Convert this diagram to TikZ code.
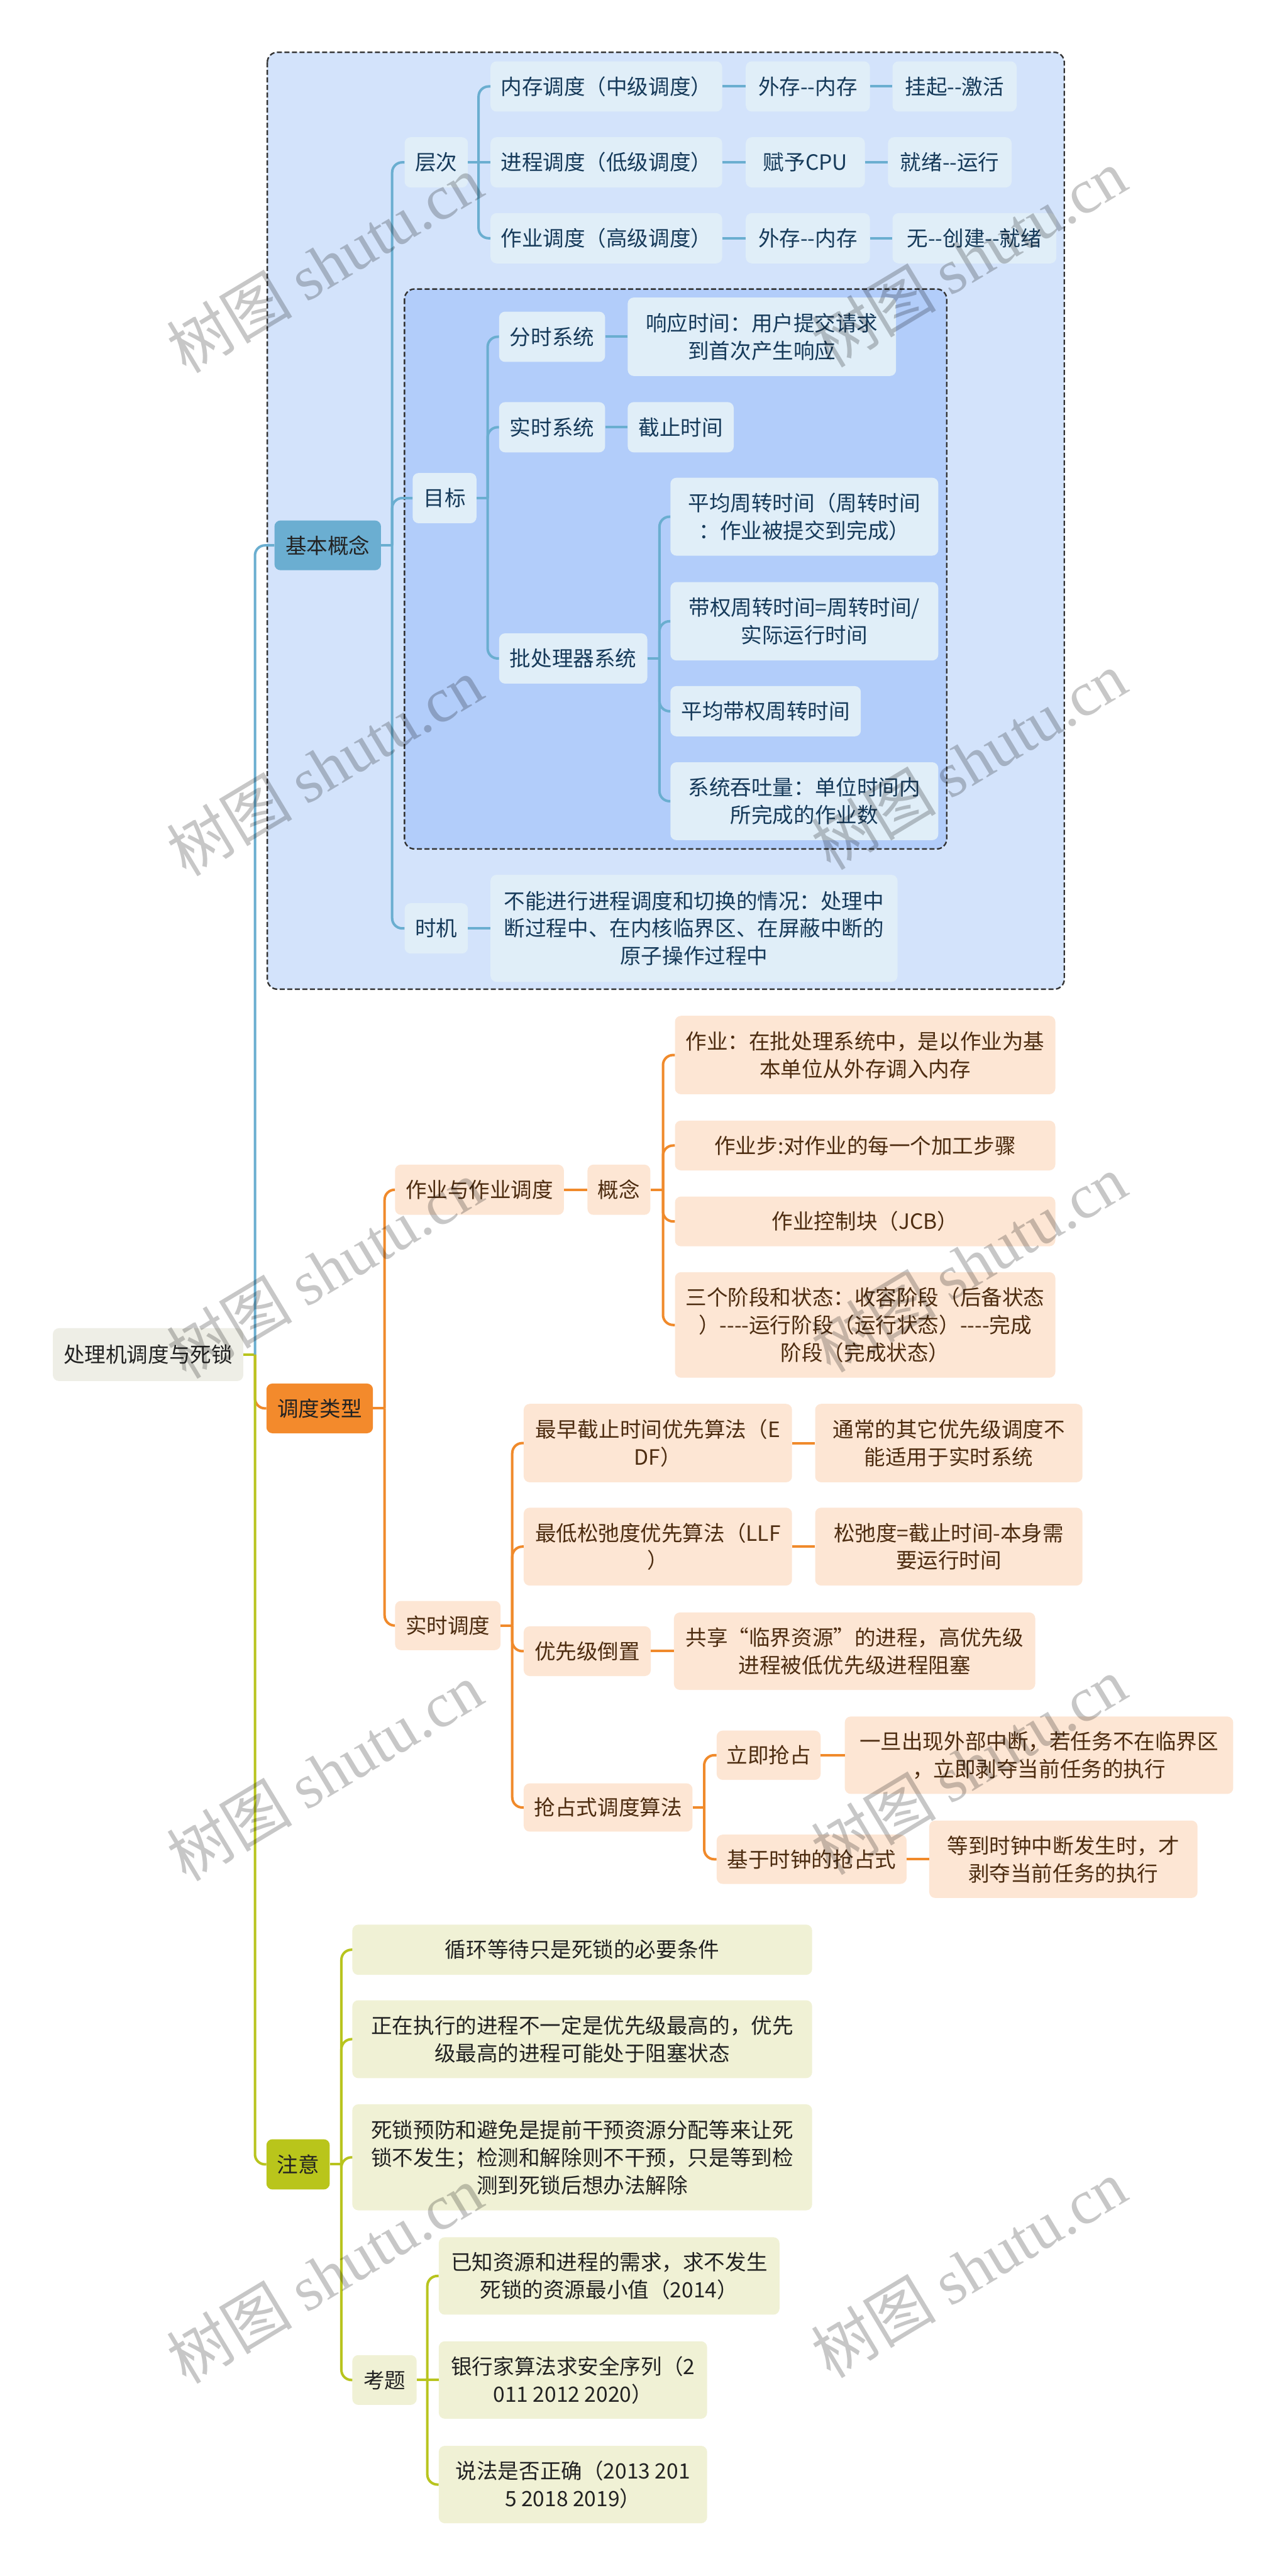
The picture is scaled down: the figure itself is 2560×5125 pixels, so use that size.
\documentclass[tikz,border=0pt]{standalone}
\usepackage{fontspec}
\setmainfont{Noto Sans CJK SC}[Ligatures=TeXOff]
\newfontfamily\wmfont{Liberation Serif}
\usepackage{tikz}

\definecolor{blueline}{HTML}{6AAED0}
\definecolor{bluedark}{HTML}{6BAED1}
\definecolor{blueleaf}{HTML}{E0EEF8}
\definecolor{bluetext}{HTML}{163A5A}
\definecolor{outerbg}{HTML}{D3E3FB}
\definecolor{innerbg}{HTML}{B2CDFA}
\definecolor{orangeline}{HTML}{F08A2B}
\definecolor{orangedark}{HTML}{F38A2C}
\definecolor{orangeleaf}{HTML}{FDE6D4}
\definecolor{browntext}{HTML}{4D2C10}
\definecolor{greenline}{HTML}{B8C41E}
\definecolor{greendark}{HTML}{B9C51B}
\definecolor{greenleaf}{HTML}{F0F1D5}
\definecolor{rootfill}{HTML}{EEEEE6}
\definecolor{darktext}{HTML}{222222}

\begin{document}
\begin{tikzpicture}[x=1pt,y=-1pt,
  box/.style={anchor=west,rounded corners=12pt,inner sep=0pt,align=center,minimum height=100pt,font=\fontsize{42}{55}\selectfont},
  bleaf/.style={box,fill=blueleaf,text=bluetext},
  oleaf/.style={box,fill=orangeleaf,text=browntext},
  gleaf/.style={box,fill=greenleaf,text=darktext},
  bl/.style={draw=blueline,line width=5pt,rounded corners=20pt},
  ol/.style={draw=orangeline,line width=5pt,rounded corners=20pt},
  gl/.style={draw=greenline,line width=5pt,rounded corners=20pt},
  region/.style={draw=black!80,line width=3pt,dash pattern=on 10pt off 5pt,rounded corners=20pt},
  wm/.style={rotate=31,text=black,text opacity=0.22,inner sep=0pt,font=\fontsize{125}{125}\selectfont}]
\useasboundingbox (0,0) rectangle (2560,5125);
\fill[white] (0,0) rectangle (2560,5125);

% boundaries round the first branch
\draw[region,fill=outerbg] (532,104) rectangle (2118,1968);
\draw[region,fill=innerbg] (805,575) rectangle (1884,1689);

% root and main branches
\node[box,fill=rootfill,text=darktext,minimum width=379pt,minimum height=105pt] (rt) at (105,2695) {处理机调度与死锁};
\node[box,fill=bluedark,text=darktext,minimum width=212pt,minimum height=99pt] (jbgn) at (546,1085) {基本概念};
\node[box,fill=orangedark,text=darktext,minimum width=212pt,minimum height=99pt] (ddlx) at (530,2802) {调度类型};
\node[box,fill=greendark,text=darktext,minimum width=126pt] (zy) at (530,4306) {注意};

% 基本概念
\node[bleaf,minimum width=126pt] (cc) at (805,323) {层次};
\node[bleaf,minimum width=461pt] (ncdd) at (976,172) {内存调度（中级调度）};
\node[bleaf,minimum width=247pt] (wcnc) at (1484,172) {外存--内存};
\node[bleaf,minimum width=247pt] (gqjh) at (1776,172) {挂起--激活};
\node[bleaf,minimum width=461pt] (jcdd) at (976,323) {进程调度（低级调度）};
\node[bleaf,minimum width=237pt] (fycpu) at (1484,323) {赋予CPU};
\node[bleaf,minimum width=246pt] (jxyx) at (1767,323) {就绪--运行};
\node[bleaf,minimum width=461pt] (zydd) at (976,474) {作业调度（高级调度）};
\node[bleaf,minimum width=247pt] (wcnc2) at (1484,474) {外存--内存};
\node[bleaf,minimum width=326pt] (wcjx) at (1776,474) {无--创建--就绪};

\node[bleaf,minimum width=127pt] (mb) at (821,991) {目标};
\node[bleaf,minimum width=211pt] (fsxt) at (993,670) {分时系统};
\node[bleaf,minimum width=534pt,minimum height=156pt] (xysj) at (1249,670) {响应时间：用户提交请求\\到首次产生响应};
\node[bleaf,minimum width=211pt] (ssxt) at (993,850) {实时系统};
\node[bleaf,minimum width=211pt] (jzsj) at (1249,850) {截止时间};
\node[bleaf,minimum width=295pt] (pcl) at (993,1310) {批处理器系统};
\node[bleaf,minimum width=533pt,minimum height=155pt] (pjzz) at (1334,1028) {平均周转时间（周转时间\\：作业被提交到完成）};
\node[bleaf,minimum width=533pt,minimum height=156pt] (dqzz) at (1334,1236) {带权周转时间=周转时间/\\实际运行时间};
\node[bleaf,minimum width=379pt] (pjdq) at (1334,1415) {平均带权周转时间};
\node[bleaf,minimum width=533pt,minimum height=155pt] (tts) at (1334,1594) {系统吞吐量：单位时间内\\所完成的作业数};

\node[bleaf,minimum width=126pt] (sj) at (805,1847) {时机};
\node[bleaf,minimum width=810pt,minimum height=213pt] (bnjx) at (976,1847) {不能进行进程调度和切换的情况：处理中\\断过程中、在内核临界区、在屏蔽中断的\\原子操作过程中};

% 调度类型
\node[oleaf,minimum width=336pt] (zyzy) at (786,2367) {作业与作业调度};
\node[oleaf,minimum width=125pt] (gn) at (1169,2367) {概念};
\node[oleaf,minimum width=757pt,minimum height=156pt] (zyd) at (1343,2099) {作业：在批处理系统中，是以作业为基\\本单位从外存调入内存};
\node[oleaf,minimum width=757pt,minimum height=99pt] (zyb) at (1343,2279) {作业步:对作业的每一个加工步骤};
\node[oleaf,minimum width=757pt,minimum height=99pt] (zykz) at (1343,2430) {作业控制块（JCB）};
\node[oleaf,minimum width=757pt,minimum height=210pt] (sgjd) at (1343,2636) {三个阶段和状态：收容阶段（后备状态\\）----运行阶段（运行状态）----完成\\阶段（完成状态）};

\node[oleaf,minimum width=210pt,minimum height=98pt] (ssdd) at (786,3234) {实时调度};
\node[oleaf,minimum width=534pt,minimum height=156pt] (edf) at (1042,2871) {最早截止时间优先算法（E\\DF）};
\node[oleaf,minimum width=532pt,minimum height=156pt] (edfn) at (1622,2871) {通常的其它优先级调度不\\能适用于实时系统};
\node[oleaf,minimum width=534pt,minimum height=155pt] (llf) at (1042,3077) {最低松弛度优先算法（LLF\\）};
\node[oleaf,minimum width=532pt,minimum height=155pt] (llfn) at (1622,3077) {松弛度=截止时间-本身需\\要运行时间};
\node[oleaf,minimum width=253pt,minimum height=99pt] (yxdz) at (1042,3285) {优先级倒置};
\node[oleaf,minimum width=719pt,minimum height=154pt] (yxdzn) at (1341,3285) {共享“临界资源”的进程，高优先级\\进程被低优先级进程阻塞};
\node[oleaf,minimum width=336pt,minimum height=96pt] (qzs) at (1042,3596) {抢占式调度算法};
\node[oleaf,minimum width=207pt,minimum height=98pt] (ljqz) at (1426,3492) {立即抢占};
\node[oleaf,minimum width=773pt,minimum height=154pt] (ljqzn) at (1681,3492) {一旦出现外部中断，若任务不在临界区\\，立即剥夺当前任务的执行};
\node[oleaf,minimum width=378pt,minimum height=98pt] (jysz) at (1426,3699) {基于时钟的抢占式};
\node[oleaf,minimum width=534pt,minimum height=154pt] (jyszn) at (1849,3699) {等到时钟中断发生时，才\\剥夺当前任务的执行};

% 注意
\node[gleaf,minimum width=915pt] (xhdd) at (701,3879) {循环等待只是死锁的必要条件};
\node[gleaf,minimum width=915pt,minimum height=155pt] (zzzx) at (701,4057) {正在执行的进程不一定是优先级最高的，优先\\级最高的进程可能处于阻塞状态};
\node[gleaf,minimum width=915pt,minimum height=211pt] (ssyf) at (701,4292) {死锁预防和避免是提前干预资源分配等来让死\\锁不发生；检测和解除则不干预，只是等到检\\测到死锁后想办法解除};
\node[gleaf,minimum width=128pt,minimum height=99pt] (kt) at (701,4735) {考题};
\node[gleaf,minimum width=678pt,minimum height=154pt] (yzzy) at (873,4528) {已知资源和进程的需求，求不发生\\死锁的资源最小值（2014）};
\node[gleaf,minimum width=534pt,minimum height=154pt] (yhj) at (873,4735) {银行家算法求安全序列（2\\011 2012 2020）};
\node[gleaf,minimum width=534pt,minimum height=154pt] (sfzq) at (873,4943) {说法是否正确（2013 201\\5 2018 2019）};

% connectors from the root
\draw[gl] (rt.east) -- ++(23,0) coordinate (rtj);
\draw[bl] (rtj) |- (jbgn.west);
\draw[ol] (rtj) |- (ddlx.west);
\draw[gl] (rtj) |- (zy.west);

% 基本概念 connectors
\draw[bl] (jbgn.east) -- ++(22,0) coordinate (jbgnj);
\draw[bl] (jbgnj) |- (cc.west);
\draw[bl] (jbgnj) |- (mb.west);
\draw[bl] (jbgnj) |- (sj.west);
\draw[bl] (cc.east) -- ++(21,0) coordinate (ccj);
\draw[bl] (ccj) |- (ncdd.west);
\draw[bl] (cc.east) -- (jcdd.west);
\draw[bl] (ccj) |- (zydd.west);
\draw[bl] (ncdd.east) -- (wcnc.west);
\draw[bl] (wcnc.east) -- (gqjh.west);
\draw[bl] (jcdd.east) -- (fycpu.west);
\draw[bl] (fycpu.east) -- (jxyx.west);
\draw[bl] (zydd.east) -- (wcnc2.west);
\draw[bl] (wcnc2.east) -- (wcjx.west);
\draw[bl] (mb.east) -- ++(22,0) coordinate (mbj);
\draw[bl] (mbj) |- (fsxt.west);
\draw[bl] (mbj) |- (ssxt.west);
\draw[bl] (mbj) |- (pcl.west);
\draw[bl] (fsxt.east) -- (xysj.west);
\draw[bl] (ssxt.east) -- (jzsj.west);
\draw[bl] (pcl.east) -- ++(24,0) coordinate (pclj);
\draw[bl] (pclj) |- (pjzz.west);
\draw[bl] (pclj) |- (dqzz.west);
\draw[bl] (pclj) |- (pjdq.west);
\draw[bl] (pclj) |- (tts.west);
\draw[bl] (sj.east) -- (bnjx.west);

% 调度类型 connectors
\draw[ol] (ddlx.east) -- ++(23,0) coordinate (ddlxj);
\draw[ol] (ddlxj) |- (zyzy.west);
\draw[ol] (ddlxj) |- (ssdd.west);
\draw[ol] (zyzy.east) -- (gn.west);
\draw[ol] (gn.east) -- ++(25,0) coordinate (gnj);
\draw[ol] (gnj) |- (zyd.west);
\draw[ol] (gnj) |- (zyb.west);
\draw[ol] (gnj) |- (zykz.west);
\draw[ol] (gnj) |- (sgjd.west);
\draw[ol] (ssdd.east) -- ++(23,0) coordinate (ssddj);
\draw[ol] (ssddj) |- (edf.west);
\draw[ol] (ssddj) |- (llf.west);
\draw[ol] (ssddj) |- (yxdz.west);
\draw[ol] (ssddj) |- (qzs.west);
\draw[ol] (edf.east) -- (edfn.west);
\draw[ol] (llf.east) -- (llfn.west);
\draw[ol] (yxdz.east) -- (yxdzn.west);
\draw[ol] (qzs.east) -- ++(23,0) coordinate (qzsj);
\draw[ol] (qzsj) |- (ljqz.west);
\draw[ol] (qzsj) |- (jysz.west);
\draw[ol] (ljqz.east) -- (ljqzn.west);
\draw[ol] (jysz.east) -- (jyszn.west);

% 注意 connectors
\draw[gl] (zy.east) -- ++(23,0) coordinate (zyj);
\draw[gl] (zyj) |- (xhdd.west);
\draw[gl] (zyj) |- (zzzx.west);
\draw[gl] (zyj) |- (ssyf.west);
\draw[gl] (zyj) |- (kt.west);
\draw[gl] (kt.east) -- ++(21,0) coordinate (ktj);
\draw[gl] (ktj) |- (yzzy.west);
\draw[gl] (kt.east) -- (yhj.west);
\draw[gl] (ktj) |- (sfzq.west);

% watermarks
\node[wm] (wm1) at (646,525) {树图 {\wmfont shutu.cn}};
\node[wm] (wm2) at (1928,513) {树图 {\wmfont shutu.cn}};
\node[wm] (wm3) at (646,1525) {树图 {\wmfont shutu.cn}};
\node[wm] (wm4) at (1928,1513) {树图 {\wmfont shutu.cn}};
\node[wm] (wm5) at (646,2525) {树图 {\wmfont shutu.cn}};
\node[wm] (wm6) at (1928,2513) {树图 {\wmfont shutu.cn}};
\node[wm] (wm7) at (646,3525) {树图 {\wmfont shutu.cn}};
\node[wm] (wm8) at (1928,3513) {树图 {\wmfont shutu.cn}};
\node[wm] (wm9) at (646,4525) {树图 {\wmfont shutu.cn}};
\node[wm] (wm10) at (1928,4513) {树图 {\wmfont shutu.cn}};
\end{tikzpicture}
\end{document}
